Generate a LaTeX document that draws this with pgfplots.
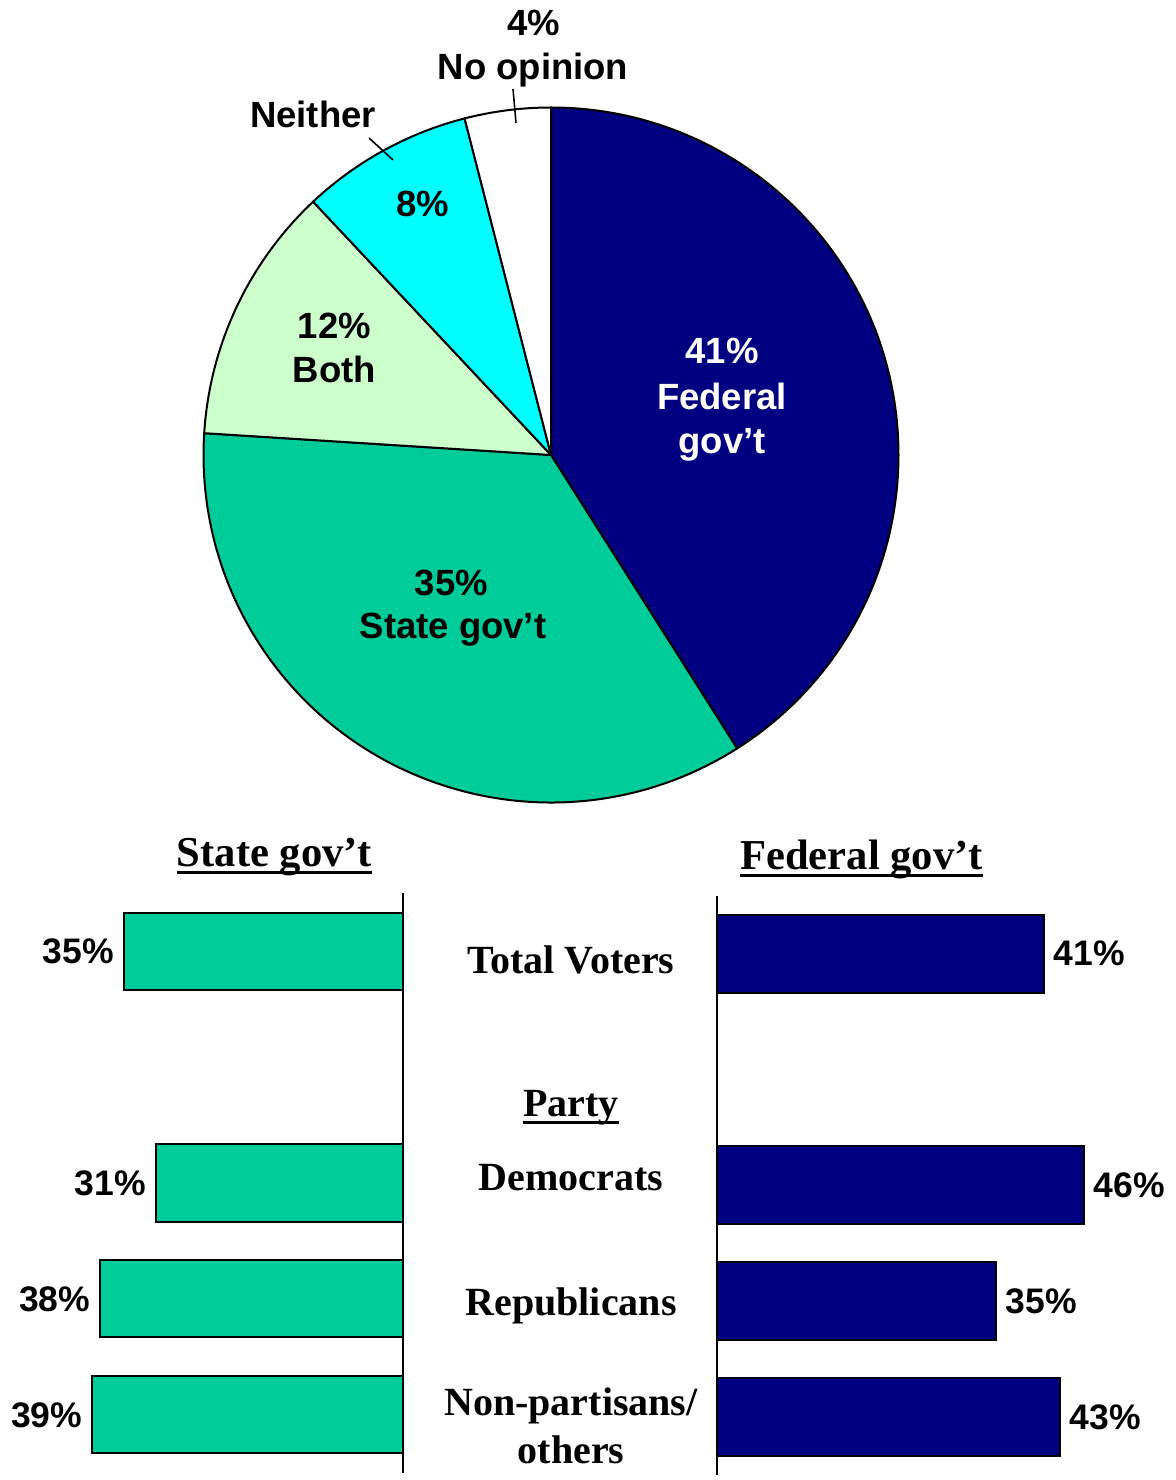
\documentclass[border=0pt]{standalone}
\usepackage{pgfplots}
\pgfplotsset{compat=1.18}
\usepackage{fontspec}
\setmainfont{Liberation Serif}
\setsansfont{Liberation Sans}
\definecolor{fednavy}{RGB}{0,0,128}
\definecolor{stategreen}{RGB}{0,204,153}
\definecolor{bothgreen}{RGB}{204,255,204}
\definecolor{neithercyan}{RGB}{0,255,255}
\newcommand{\myul}[1]{\setbox0\hbox{#1}\rlap{\rule[-3.6pt]{\wd0}{1.4pt}}\box0}
\newcommand{\pieR}{173.75pt}
\newcommand{\slice}[3]{\filldraw[fill=#3,draw=black,line width=1pt,line join=round] (axis cs:0,0) -- ++({90-3.6*(#1)}:\pieR) arc[start angle={90-3.6*(#1)}, end angle={90-3.6*(#2)}, radius=\pieR] -- cycle;}
\newcommand{\pielab}{\sffamily\bfseries\fontsize{18.25}{22}\selectfont}
\newcommand{\barlab}{\sffamily\bfseries\fontsize{17.75}{20}\selectfont}
\newcommand{\catlab}{\rmfamily\bfseries\fontsize{20}{24}\selectfont}
\newcommand{\headlab}{\rmfamily\bfseries\fontsize{21.3}{25}\selectfont}
\begin{document}
\begin{tikzpicture}
\useasboundingbox (0,0) rectangle (587.5pt,740pt);
% ---------------- pie ----------------
\begin{axis}[at={(275.5pt,512.5pt)}, anchor=center,
  scale only axis, width=347.5pt, height=347.5pt,
  xmin=-1, xmax=1, ymin=-1, ymax=1, hide axis, clip=false]
\slice{0}{41}{fednavy}
\slice{41}{76}{stategreen}
\slice{76}{88}{bothgreen}
\slice{88}{96}{neithercyan}
\slice{96}{100}{white}
\end{axis}
\begin{scope}[every node/.style={font=\pielab, anchor=base, inner sep=0pt}]
\node at (266.75pt,722pt) {4\%};
\node at (266.5pt,700pt) {No opinion};
\node at (156.5pt,676pt) {Neither};
\node at (211.5pt,631.5pt) {8\%};
\node at (167.25pt,570.5pt) {12\%};
\node at (167.25pt,548.5pt) {Both};
\node[text=white] at (361pt,558pt) {41\%};
\node[text=white] at (361pt,535pt) {Federal};
\node[text=white] at (361pt,513pt) {gov’t};
\node at (225.75pt,442pt) {35\%};
\node at (226.5pt,420.5pt) {State gov’t};
\end{scope}
\draw[black, line width=0.8pt] (184.5pt,671pt) -- (196.5pt,660pt);
\draw[black, line width=0.8pt] (256.5pt,695.5pt) -- (258pt,678.5pt);
% ---------------- left bars: state ----------------
\begin{axis}[at={(201.5pt,293.5pt)}, anchor=north east,
  scale only axis, width=199.25pt, height=290pt,
  xbar, bar width=38.5pt,
  xmin=0, xmax=50, x dir=reverse,
  ymin=-0.5, ymax=4.5, y dir=reverse,
  hide axis, clip=false]
\addplot[fill=stategreen, draw=black, line width=1pt, point meta=x,
  nodes near coords={\pgfmathprintnumber[assume math mode=true]{\pgfplotspointmeta}\%},
  every node near coord/.append style={anchor=east, font=\barlab, inner sep=4.5pt, text=black}]
  coordinates {(35,0) (31,2) (38,3) (39,4)};
\draw[black, line width=0.9pt] (axis cs:0,-0.5) -- (axis cs:0,4.5);
\end{axis}
% ---------------- right bars: federal ----------------
\begin{axis}[at={(358.5pt,292.25pt)}, anchor=north west,
  scale only axis, width=199.25pt, height=290pt,
  xbar, bar width=39pt,
  xmin=0, xmax=50,
  ymin=-0.5, ymax=4.5, y dir=reverse,
  hide axis, clip=false]
\addplot[fill=fednavy, draw=black, line width=1pt, point meta=x,
  nodes near coords={\pgfmathprintnumber[assume math mode=true]{\pgfplotspointmeta}\%},
  every node near coord/.append style={anchor=west, font=\barlab, inner sep=4.5pt, text=black}]
  coordinates {(41,0) (46,2) (35,3) (43,4)};
\draw[black, line width=0.9pt] (axis cs:0,-0.5) -- (axis cs:0,4.5);
\end{axis}
% ---------------- headers and categories ----------------
\begin{scope}[every node/.style={anchor=base, inner sep=0pt}]
\node[font=\headlab] at (137.25pt,306.65pt) {\myul{State gov’t}};
\node[font=\headlab] at (430.75pt,305pt) {\myul{Federal gov’t}};
\node[font=\catlab] at (285.5pt,253pt) {Total Voters};
\node[font=\catlab] at (285.5pt,181.5pt) {\myul{Party}};
\node[font=\catlab] at (285.5pt,144.5pt) {Democrats};
\node[font=\catlab] at (285.5pt,82pt) {Republicans};
\node[font=\catlab] at (285.5pt,32pt) {Non-partisans/};
\node[font=\catlab] at (285.5pt,8.5pt) {others};
\end{scope}
\end{tikzpicture}
\end{document}
